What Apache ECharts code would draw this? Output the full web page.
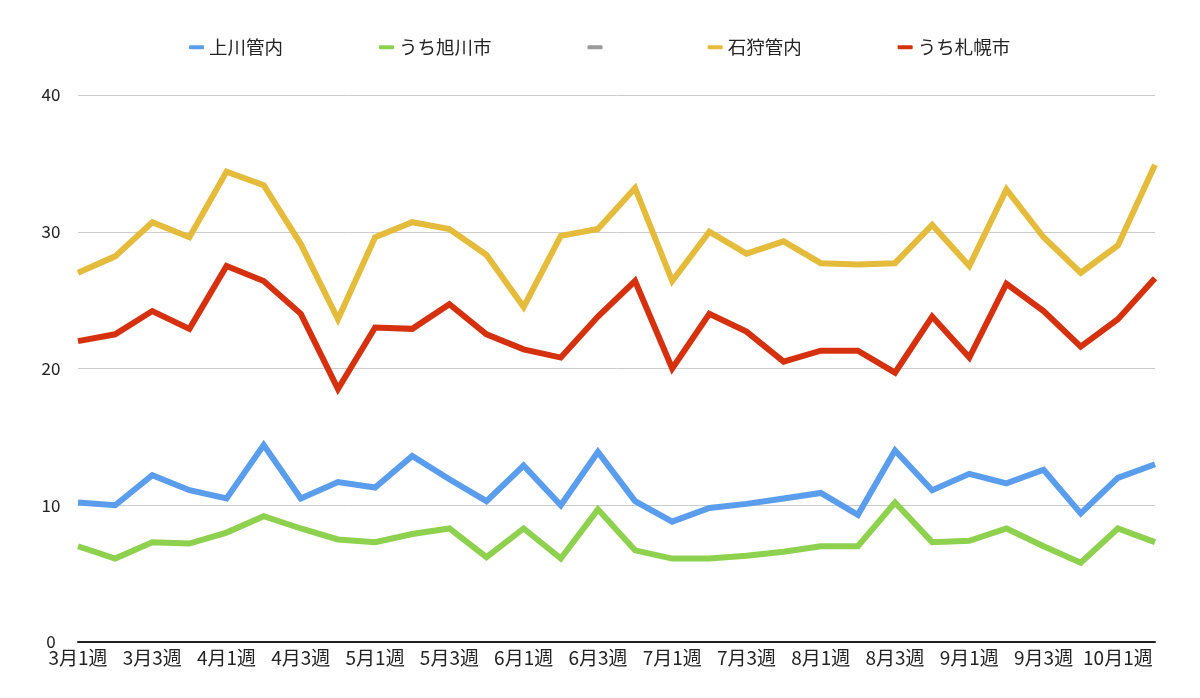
<!DOCTYPE html>
<html>
<head>
<meta charset="utf-8">
<script src="https://cdn.jsdelivr.net/npm/echarts@6/dist/echarts.min.js"></script>
<style>
html,body{margin:0;padding:0;background:#fff;}
#chart{width:1200px;height:698px;}
</style>
</head>
<body>
<div id="chart"></div>
<script>
const categories = ['3月1週','3月2週','3月3週','3月4週','4月1週','4月2週','4月3週','4月4週','5月1週','5月2週','5月3週','5月4週','6月1週','6月2週','6月3週','6月4週','7月1週','7月2週','7月3週','7月4週','8月1週','8月2週','8月3週','8月4週','9月1週','9月2週','9月3週','9月4週','10月1週','10月2週'];
const kamikawa = [10.2,10.0,12.2,11.1,10.5,14.4,10.5,11.7,11.3,13.6,11.9,10.3,12.9,10.0,13.9,10.3,8.8,9.8,10.1,10.5,10.9,9.3,14.0,11.1,12.3,11.6,12.6,9.4,12.0,13.0];
const asahikawa = [7.0,6.1,7.3,7.2,8.0,9.2,8.3,7.5,7.3,7.9,8.3,6.2,8.3,6.1,9.7,6.7,6.1,6.1,6.3,6.6,7.0,7.0,10.2,7.3,7.4,8.3,7.0,5.8,8.3,7.3];
const blank = [];
const ishikari = [27.0,28.2,30.7,29.6,34.4,33.4,29.1,23.6,29.6,30.7,30.2,28.3,24.5,29.7,30.2,33.2,26.4,30.0,28.4,29.3,27.7,27.6,27.7,30.5,27.5,33.1,29.6,27.0,29.0,34.9];
const sapporo = [22.0,22.5,24.2,22.9,27.5,26.4,24.0,18.5,23.0,22.9,24.7,22.5,21.4,20.8,23.8,26.4,20.0,24.0,22.7,20.5,21.3,21.3,19.7,23.8,20.8,26.2,24.2,21.6,23.6,26.6];
const seriesNames = ['上川管内','うち旭川市',' ','石狩管内','うち札幌市'];
const yTicks = [0,10,20,30,40];

const colors = ['#5b9ded','#8dd14f','#9a9a9a','#e5bb3c','#d6310f'];
const dataList = [kamikawa, asahikawa, blank, ishikari, sapporo];
const font = '"Noto Sans CJK JP", "Noto Sans", sans-serif';

const chart = echarts.init(document.getElementById('chart'));
chart.setOption({
  animation: false,
  backgroundColor: '#ffffff',
  textStyle: { fontFamily: font },
  legend: {
    data: seriesNames,
    left: 184,
    top: 33,
    icon: 'roundRect',
    itemWidth: 15,
    itemHeight: 4,
    itemGap: 96,
    textStyle: { fontSize: 18.5, color: '#222', fontFamily: font }
  },
  grid: { left: 78, right: 45, top: 95, bottom: 56, containLabel: false },
  xAxis: {
    type: 'category',
    data: categories,
    boundaryGap: false,
    axisLine: { show: true, lineStyle: { color: '#222', width: 2 } },
    axisTick: { show: false },
    axisLabel: { interval: 1, fontSize: 19, color: '#222', margin: 6, fontFamily: font },
    splitLine: { show: false }
  },
  yAxis: {
    type: 'value',
    min: yTicks[0],
    max: yTicks[yTicks.length - 1],
    interval: yTicks[1] - yTicks[0],
    axisLine: { show: false },
    axisTick: { show: false },
    axisLabel: { fontSize: 17, color: '#222', align: 'center', margin: 27, fontFamily: font },
    splitLine: { lineStyle: { color: '#cccccc', width: 1 } }
  },
  series: seriesNames.map((n, i) => ({
    name: n,
    type: 'line',
    data: dataList[i],
    symbol: 'none',
    color: colors[i],
    lineStyle: { width: 6, color: colors[i], join: 'miter', cap: 'butt' },
    z: 2
  }))
});
</script>
</body>
</html>
